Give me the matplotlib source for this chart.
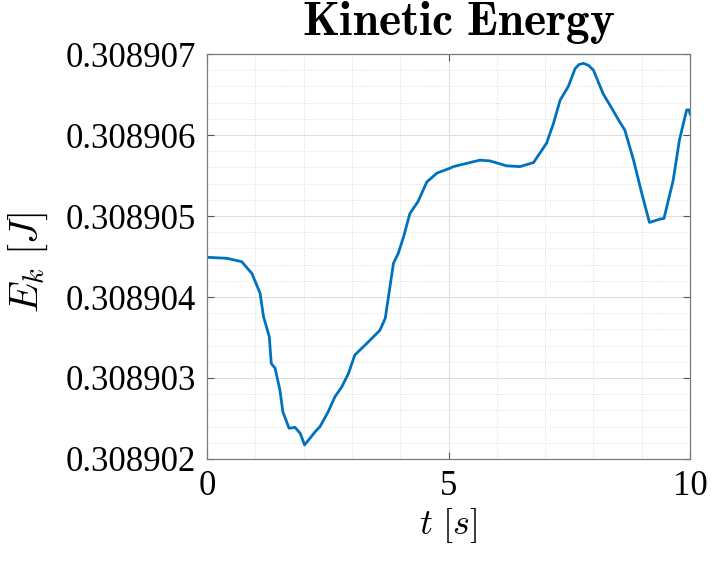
import matplotlib
matplotlib.use("Agg")
import matplotlib.pyplot as plt
from matplotlib.ticker import MultipleLocator, FormatStrFormatter

plt.rcParams['font.family'] = ['Liberation Serif', 'DejaVu Serif']
plt.rcParams['mathtext.fontset'] = 'cm'

# time samples [s] and kinetic energy offset above 0.308902 J, in micro-joules
t = [0.00, 0.41, 0.72, 0.93, 1.10, 1.17, 1.29, 1.33, 1.41, 1.51, 1.57, 1.70,
     1.82, 1.93, 2.02, 2.24, 2.34, 2.51, 2.65, 2.79, 2.93, 3.06, 3.31, 3.58,
     3.69, 3.86, 3.96, 4.07, 4.20, 4.37, 4.55, 4.76, 5.03, 5.10, 5.65, 5.86,
     6.20, 6.48, 6.76, 7.03, 7.17, 7.31, 7.48, 7.62, 7.70, 7.79, 7.90, 8.00,
     8.20, 8.38, 8.52, 8.65, 8.83, 9.00, 9.16, 9.38, 9.46, 9.65, 9.78, 9.93,
     9.98, 10.0]
dE = [2.49, 2.478, 2.436, 2.29, 2.046, 1.757, 1.51, 1.18, 1.12, 0.85, 0.584, 0.379,
      0.391, 0.317, 0.173, 0.337, 0.40, 0.584, 0.77, 0.89, 1.058, 1.284, 1.428, 1.59,
      1.737, 2.416, 2.54, 2.744, 3.03, 3.18, 3.42, 3.53, 3.59, 3.61, 3.69, 3.68,
      3.62, 3.61, 3.66, 3.90, 4.14, 4.43, 4.60, 4.82, 4.87, 4.885, 4.86, 4.80,
      4.51, 4.33, 4.185, 4.06, 3.69, 3.28, 2.92, 2.963, 2.97, 3.44, 3.94, 4.31,
      4.31, 4.26]
E_base = 0.308902
Ek = [E_base + d * 1e-6 for d in dE]

fig = plt.figure(figsize=(7.12, 5.64), dpi=100)
ax = fig.add_axes([0.2907, 0.1862, 0.6785, 0.7180])

ax.plot(t, Ek, color='#0072BD', linewidth=2.0)

ax.set_xlim(0, 10)
ax.set_ylim(0.308902, 0.308907)
ax.xaxis.set_major_locator(MultipleLocator(5))
ax.xaxis.set_minor_locator(MultipleLocator(1))
ax.yaxis.set_major_locator(MultipleLocator(1e-6))
ax.yaxis.set_minor_locator(MultipleLocator(0.2e-6))
ax.yaxis.set_major_formatter(FormatStrFormatter('%.6f'))

ax.grid(which='major', color='#dcdcdc', linewidth=0.7, linestyle='-')
ax.grid(which='minor', color='#dcdcdc', linewidth=0.7, linestyle=':')
ax.tick_params(which='major', direction='in', length=5, width=0.8,
               top=True, right=True, labelsize=25, color='#555555',
               labelcolor='black', pad=8)
ax.tick_params(which='minor', length=0)
for s in ax.spines.values():
    s.set_color('#7a7a7a')
    s.set_linewidth(0.9)

ax.set_xlabel(r'$t\ [s]$', fontsize=26, labelpad=2)
ax.set_ylabel(r'$E_k\ [J]$', fontsize=29)
ax.yaxis.set_label_coords(-0.325, 0.486)
ax.set_title(r'$\mathbf{Kinetic\ Energy}$', fontsize=34, pad=14, x=0.52)

fig.savefig('out.png', dpi=100)
